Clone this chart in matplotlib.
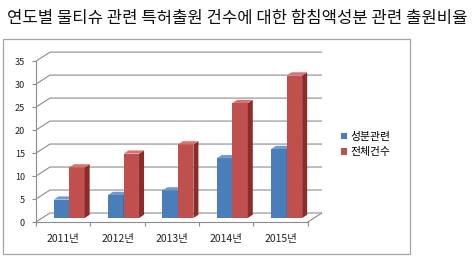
import matplotlib
matplotlib.use("Agg")
import matplotlib.pyplot as plt
from matplotlib.patches import Polygon, Rectangle
import numpy as np

plt.rcParams['font.family'] = ['Noto Sans CJK KR', 'DejaVu Sans']

title = "연도별 물티슈 관련 특허출원 건수에 대한 함침액성분 관련 출원비율"
categories = ["2011년", "2012년", "2013년", "2014년", "2015년"]
series_names = ["성분관련", "전체건수"]
blue_vals = [4, 5, 6, 13, 15]
red_vals = [11, 14, 16, 25, 31]
yticks = [0, 5, 10, 15, 20, 25, 30, 35]

W, H = 474, 261
fig = plt.figure(figsize=(W / 100, H / 100), dpi=100)

# outer chart box
fig.patches.append(Rectangle((3 / W, (H - 254) / H), (410 - 3) / W, (254 - 39) / H,
                             transform=fig.transFigure, fill=False,
                             edgecolor='#a6a6a6', linewidth=0.9))

fig.text(7 / W, 1 - 19 / H, title, fontsize=12.0, va='center', ha='left', color='#111111')

ax = fig.add_axes([36 / W, 39 / H, 286 / W, 171 / H])
n = len(categories)
ax.set_xlim(0, 5.26)
ax.set_ylim(0, 37.2)
ax.patch.set_alpha(0)

# perspective offsets (data units)
wdx, wdy = 0.257, 1.957      # wall depth
ox, oy = 0.11, 0.87          # bar front face offset
bdx, bdy = 0.092, 0.70       # bar depth
bw = 0.285

grid_c = '#8c8c8c'
for v in yticks:
    ax.plot([0, wdx, n + wdx], [v, v + wdy, v + wdy], color=grid_c, lw=0.8, zorder=1)
ax.plot([n, n + wdx], [0, wdy], color=grid_c, lw=0.8, zorder=1)

def draw_bars(xs, vals, front, side, top):
    bars = ax.bar(xs, vals, width=bw, bottom=oy, align='edge', color=front,
                  edgecolor='none', zorder=3)
    for b in bars:
        x0 = b.get_x(); x1 = x0 + b.get_width()
        y0 = b.get_y(); y1 = y0 + b.get_height()
        ax.add_patch(Polygon([(x1, y0), (x1 + bdx, y0 + bdy), (x1 + bdx, y1 + bdy), (x1, y1)],
                             closed=True, facecolor=side, edgecolor='none', zorder=3))
        ax.add_patch(Polygon([(x0, y1), (x0 + bdx, y1 + bdy), (x1 + bdx, y1 + bdy), (x1, y1)],
                             closed=True, facecolor=top, edgecolor='none', zorder=3))
    return bars

idx = np.arange(n)
centers = idx + 0.5 + ox
b1 = draw_bars(centers - bw, blue_vals, '#4a7ebb', '#2f5a8f', '#6e9bd1')
b2 = draw_bars(centers, red_vals, '#c0504d', '#8a2c2a', '#d9726f')

for s in ['top', 'right']:
    ax.spines[s].set_visible(False)
ax.spines['left'].set_bounds(0, 35)
ax.spines['bottom'].set_bounds(0, n)
ax.spines['left'].set_color(grid_c)
ax.spines['bottom'].set_color(grid_c)
ax.spines['left'].set_linewidth(0.8)
ax.spines['bottom'].set_linewidth(0.8)

ax.set_yticks(yticks)
ax.set_yticklabels([str(v) for v in yticks])
ax.tick_params(axis='y', length=3, width=0.8, color=grid_c, pad=5, labelsize=6.5,
               labelcolor='#222222')
ax.set_xticks(idx + 0.5)
ax.set_xticklabels(categories, fontweight='medium')
ax.set_xticks(np.arange(0, n + 1), minor=True)
ax.tick_params(axis='x', which='major', length=0, pad=8.5, labelsize=7.5, labelcolor='#222222')
ax.tick_params(axis='x', which='minor', length=3, width=0.8, color=grid_c)

fig.legend([b1, b2], series_names, loc='upper left',
           bbox_to_anchor=(341 / W, 1 - 132 / H), bbox_transform=fig.transFigure,
           frameon=False, fontsize=7.8, handlelength=0.55, handleheight=0.55,
           handletextpad=0.35, labelspacing=0.5, borderpad=0, borderaxespad=0)

fig.savefig("out.png", dpi=100)
